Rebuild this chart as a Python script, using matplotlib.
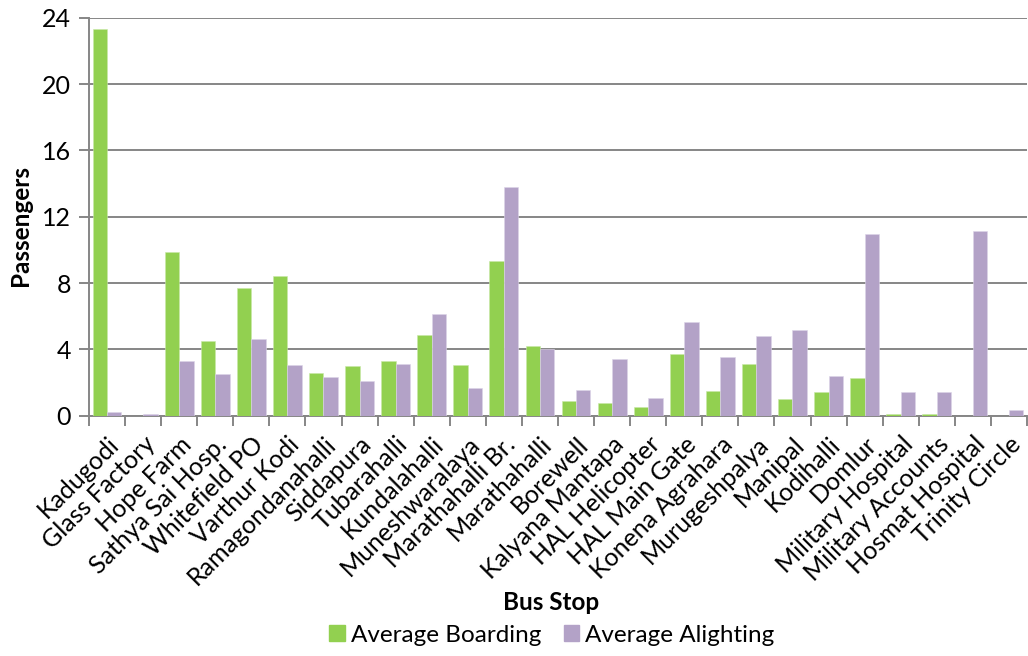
import matplotlib
matplotlib.use("Agg")
import matplotlib.pyplot as plt
import matplotlib.transforms as mtransforms
import numpy as np

plt.rcParams['font.family'] = ['Lato', 'DejaVu Sans']

stops = ["Kadugodi", "Glass Factory", "Hope Farm", "Sathya Sai Hosp.", "Whitefield PO",
         "Varthur Kodi", "Ramagondanahalli", "Siddapura", "Tubarahalli", "Kundalahalli",
         "Muneshwaralaya", "Marathahalli Br.", "Marathahalli", "Borewell", "Kalyana Mantapa",
         "HAL Helicopter", "HAL Main Gate", "Konena Agrahara", "Murugeshpalya", "Manipal",
         "Kodihalli", "Domlur", "Military Hospital", "Military Accounts", "Hosmat Hospital",
         "Trinity Circle"]

boarding = [23.3, 0.0, 9.9, 4.5, 7.7, 8.4, 2.6, 2.97, 3.28, 4.84, 3.04, 9.3, 4.18,
            0.88, 0.74, 0.52, 3.74, 1.47, 3.14, 1.0, 1.43, 2.29, 0.08, 0.08, 0.0, 0.0]
alighting = [0.22, 0.1, 3.3, 2.51, 4.6, 3.06, 2.33, 2.09, 3.1, 6.11, 1.65, 13.8, 4.0,
             1.57, 3.4, 1.05, 5.63, 3.52, 4.78, 5.15, 2.41, 10.97, 1.45, 1.45, 11.12, 0.36]

yticks = [0, 4, 8, 12, 16, 20, 24]

green = "#92D050"
purple = "#B3A2C7"
gridc = "#868686"

fig = plt.figure(figsize=(10.28, 6.56), dpi=100)
ax = fig.add_axes([89 / 1028, 1 - 415.7 / 656, 1 - 89 / 1028 - 0.001, 398 / 656])

x = np.arange(len(stops))
w = 0.4
ax.bar(x - w / 2, boarding, width=w, color=green, edgecolor="#c8e8a8", linewidth=0.4, zorder=3)
ax.bar(x + w / 2, alighting, width=w, color=purple, edgecolor="#ddd4e8", linewidth=0.4, zorder=3)

ax.set_xlim(-0.5, len(stops) - 0.5)
ax.set_ylim(0, 24)
ax.set_yticks(yticks)
ax.set_yticklabels([str(t) for t in yticks], fontsize=18)
ax.yaxis.grid(True, color=gridc, linewidth=1.4, zorder=0)
ax.set_axisbelow(True)

ax.set_xticks(x)
ax.set_xticklabels(stops, rotation=45, ha="right", va="top", rotation_mode="anchor", fontsize=18)
shift = mtransforms.ScaledTranslation(6 / 100, -5 / 100, fig.dpi_scale_trans)
for lbl in ax.get_xticklabels():
    lbl.set_transform(lbl.get_transform() + shift)
ax.set_xticks(np.arange(-0.5, len(stops), 1), minor=True)
ax.tick_params(axis="x", which="major", length=0, pad=12)
ax.tick_params(axis="x", which="minor", length=7, width=1.4, color=gridc, direction="out")
ax.tick_params(axis="y", length=7, width=1.4, color=gridc, pad=6)

for s in ["top", "right"]:
    ax.spines[s].set_visible(False)
for s in ["left", "bottom"]:
    ax.spines[s].set_color(gridc)
    ax.spines[s].set_linewidth(1.4)

fig.text(20 / 1028, 1 - 225 / 656, "Passengers", rotation=90, ha="center", va="center",
         fontsize=17.5, fontweight="bold")
fig.text(551 / 1028, 1 - 602 / 656, "Bus Stop", ha="center", va="center",
         fontsize=17.5, fontweight="bold")

handles = [plt.Rectangle((0, 0), 1, 1, color=green), plt.Rectangle((0, 0), 1, 1, color=purple)]
fig.legend(handles, ["Average Boarding", "Average Alighting"], loc="center",
           bbox_to_anchor=(552 / 1028, 1 - 635 / 656), ncol=2, frameon=False, fontsize=17.5,
           handlelength=0.65, handleheight=0.65, handletextpad=0.25, columnspacing=0.9)

fig.savefig("out.png", dpi=100)
